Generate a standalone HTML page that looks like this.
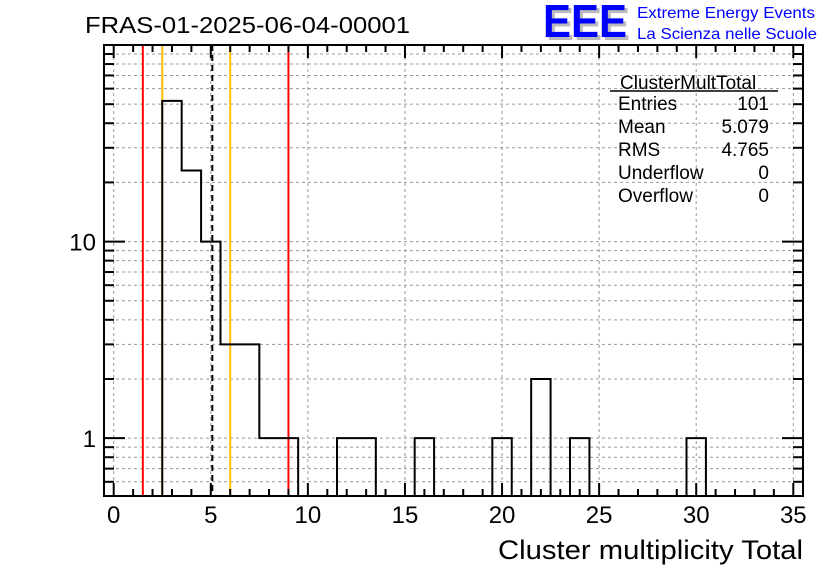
<!DOCTYPE html>
<html><head><meta charset="utf-8"><style>
body{margin:0;background:#fff}
svg{display:block;font-family:"Liberation Sans",sans-serif}
</style></head><body>
<svg id="c" width="836" height="572" viewBox="0 0 836 572">
<text x="85" y="33" font-size="23" textLength="325" lengthAdjust="spacingAndGlyphs">FRAS-01-2025-06-04-00001</text>
<g>
<text x="546" y="40" font-size="46" font-weight="bold" fill="#bbb" textLength="84" lengthAdjust="spacingAndGlyphs">EEE</text>
<text x="543" y="37" font-size="46" font-weight="bold" fill="#0000ff" textLength="84" lengthAdjust="spacingAndGlyphs">EEE</text>
<text x="637" y="18" font-size="16" fill="#0000ff" textLength="178" lengthAdjust="spacingAndGlyphs">Extreme Energy Events</text>
<text x="637" y="39" font-size="16" fill="#0000ff" textLength="180" lengthAdjust="spacingAndGlyphs">La Scienza nelle Scuole</text>
</g>
<g id="grid"></g>
<g id="marks"></g>
<g id="axes"></g>
<g font-size="19">
<text x="620" y="89">ClusterMultTotal</text>
<line x1="610" y1="91" x2="778" y2="91" stroke="#000" stroke-width="1.5"/>
<text x="618" y="110">Entries</text><text x="769" y="110" text-anchor="end">101</text>
<text x="618" y="133">Mean</text><text x="769" y="133" text-anchor="end">5.079</text>
<text x="618" y="156">RMS</text><text x="769" y="156" text-anchor="end">4.765</text>
<text x="618" y="179">Underflow</text><text x="769" y="179" text-anchor="end">0</text>
<text x="618" y="202">Overflow</text><text x="769" y="202" text-anchor="end">0</text>
</g>
<text x="803" y="559" font-size="27" text-anchor="end" textLength="305" lengthAdjust="spacingAndGlyphs">Cluster multiplicity Total</text>
</svg>
<script>
const binCenters=[3,4,5,6,7,8,9,12,13,16,20,22,24,30];
const binCounts=[52,23,10,3,3,1,1,1,1,1,1,2,1,1];
const xTicks=[0,5,10,15,20,25,30,35];
const yTicks=[1,10];
const yTickLabels=["1","10"];
const redLines=[1.5,9];
const orangeLines=[2.5,6];
const meanValue=5.079;
const NS='http://www.w3.org/2000/svg';
const L=104,R=803,T=45,B=496,xmin=-0.5,xmax=35.5,ymin=0.508,ymax=100;
const X=v=>L+(v-xmin)/(xmax-xmin)*(R-L);
const Y=v=>B-(Math.log10(v)-Math.log10(ymin))/(Math.log10(ymax)-Math.log10(ymin))*(B-T);
function mk(p,tag,a){const e=document.createElementNS(NS,tag);for(const k in a)e.setAttribute(k,a[k]);p.appendChild(e);return e;}
const grid=document.getElementById('grid'),marks=document.getElementById('marks'),axes=document.getElementById('axes');
const gs={stroke:'#999','stroke-dasharray':'3,3','stroke-width':1};
xTicks.forEach(t=>{const g=mk(grid,'line',Object.assign({x1:X(t),x2:X(t),y1:T,y2:B},gs));

});
const minors=[];
for(let d=0.1;d<=10;d*=10)for(let m=1;m<=9;m++){const v=+(m*d).toFixed(4);if(v>=ymin&&v<=ymax)minors.push(v);}
minors.forEach(v=>{const g=mk(grid,'line',Object.assign({x1:L,x2:R,y1:Y(v),y2:Y(v)},gs));

});
let d='M'+X(binCenters[0]-0.5)+','+B;
let prevEnd=null;
binCenters.forEach((c,i)=>{const x0=X(c-0.5),x1=X(c+0.5),y=Y(binCounts[i]);
if(prevEnd!==null&&Math.abs(prevEnd-(c-0.5))>1e-6){d+=' L'+X(prevEnd)+','+B+' L'+x0+','+B;}
d+=' L'+x0+','+y+' L'+x1+','+y;prevEnd=c+0.5;});
d+=' L'+X(prevEnd)+','+B;
redLines.forEach(v=>{const l=mk(marks,'line',{x1:X(v),x2:X(v),y1:T,y2:B,stroke:'#f00','stroke-width':2});

});
orangeLines.forEach(v=>{const l=mk(marks,'line',{x1:X(v),x2:X(v),y1:T,y2:B,stroke:'#ffc000','stroke-width':2});

});
const h=mk(marks,'path',{d:d,fill:'none',stroke:'#000','stroke-width':2});


const ml=mk(marks,'line',{x1:X(meanValue),x2:X(meanValue),y1:T,y2:B,stroke:'#000','stroke-width':2,'stroke-dasharray':'6,4'});


const f=mk(axes,'rect',{x:L,y:T,width:R-L,height:B-T,fill:'none',stroke:'#000','stroke-width':2});


for(let v=0;v<=35;v++){const len=v%5===0?13:7;
mk(axes,'line',{x1:X(v),x2:X(v),y1:B,y2:B-len,stroke:'#000','stroke-width':2});
mk(axes,'line',{x1:X(v),x2:X(v),y1:T,y2:T+len,stroke:'#000','stroke-width':2});}
minors.forEach(v=>{const len=(v===1||v===10||v===100)?21:10;
mk(axes,'line',{x1:L,x2:L+len,y1:Y(v),y2:Y(v),stroke:'#000','stroke-width':2});
mk(axes,'line',{x1:R,x2:R-len,y1:Y(v),y2:Y(v),stroke:'#000','stroke-width':2});});
xTicks.forEach(t=>{const e=mk(axes,'text',{x:X(t),y:523,'font-size':24,'text-anchor':'middle'});e.textContent=String(t);

});
yTicks.forEach((t,i)=>{const e=mk(axes,'text',{x:96,y:Y(t)+9,'font-size':24,'text-anchor':'end'});e.textContent=yTickLabels[i];

});
</script>
</body></html>
